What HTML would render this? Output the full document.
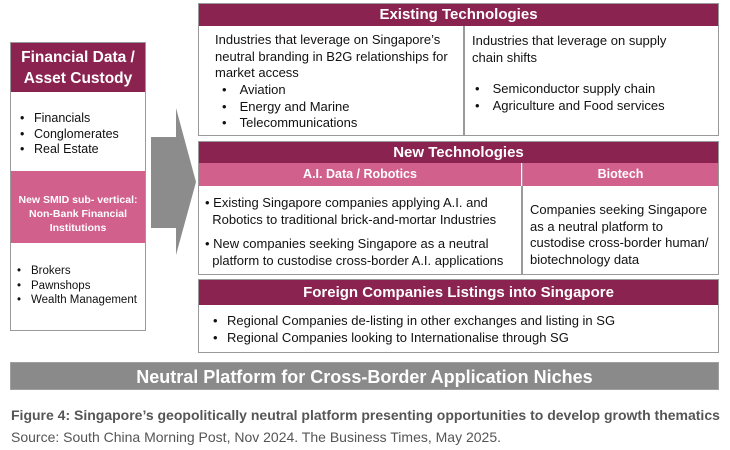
<!DOCTYPE html>
<html><head><meta charset="utf-8"><style>
body{margin:0;width:730px;height:450px;background:#fff;font-family:"Liberation Sans",sans-serif;position:relative;overflow:hidden;color:#111}
.a{position:absolute;box-sizing:border-box}
.bx{border:1.5px solid #9a9a9a;background:#fff}
.hd{background:#8a2350;color:#fff;font-weight:bold;text-align:center}
.pk{background:#d2608c;color:#fff;font-weight:bold;text-align:center}
.t{position:absolute;font-size:13px;line-height:16.5px}
ul{margin:0;padding:0;list-style:none}
li:before{content:"•";display:inline-block;width:14px}
</style></head><body>
<!-- left -->
<div class="a bx" style="left:10px;top:42px;width:136px;height:289px"></div>
<div class="a hd" style="left:11px;top:43px;width:134px;height:49px;font-size:15.5px;line-height:21px;padding-top:4px">Financial Data /<br>Asset Custody</div>
<div class="t" style="left:20px;top:111px;font-size:12.5px;line-height:15.5px"><ul><li>Financials</li><li>Conglomerates</li><li>Real Estate</li></ul></div>
<div class="a pk" style="left:11px;top:171px;width:134px;height:72px;font-size:10.5px;line-height:14px;padding-top:22px">New SMID sub- vertical:<br>Non-Bank Financial<br>Institutions</div>
<div class="t" style="left:17px;top:264px;font-size:11.5px;line-height:14.5px"><ul><li>Brokers</li><li>Pawnshops</li><li>Wealth Management</li></ul></div>
<!-- arrow -->
<svg class="a" style="left:148px;top:105px" width="52" height="155"><polygon points="3,32 28,32 28,3 48,77 28,150 28,123 3,123" fill="#8c8c8c"/></svg>
<!-- existing -->
<div class="a bx" style="left:198px;top:3px;width:521px;height:133px"></div>
<div class="a hd" style="left:199px;top:4px;width:519px;height:22px;font-size:15px;line-height:22px">Existing Technologies</div>
<div class="a" style="left:463px;top:26px;width:1.5px;height:109px;background:#9a9a9a"></div>
<div class="t" style="left:215px;top:32px">Industries that leverage on Singapore’s<br>neutral branding in B2G relationships for<br>market access</div>
<div class="t" style="left:222px;top:82px"><ul><li style="margin:0">&nbsp;Aviation</li><li>&nbsp;Energy and Marine</li><li>&nbsp;Telecommunications</li></ul></div>
<div class="t" style="left:472px;top:33px">Industries that leverage on supply<br>chain shifts</div>
<div class="t" style="left:475px;top:81px"><ul><li>&nbsp;Semiconductor supply chain</li><li>&nbsp;Agriculture and Food services</li></ul></div>
<!-- new -->
<div class="a bx" style="left:198px;top:141px;width:521px;height:134px"></div>
<div class="a hd" style="left:199px;top:142px;width:519px;height:21px;font-size:15px;line-height:21px">New Technologies</div>
<div class="a pk" style="left:199px;top:163px;width:322px;height:23px;font-size:12.5px;line-height:23px">A.I. Data / Robotics</div>
<div class="a pk" style="left:522px;top:163px;width:196px;height:23px;font-size:12.5px;line-height:23px;border-left:1.5px solid #c090a8">Biotech</div>
<div class="a" style="left:521px;top:186px;width:1.5px;height:88px;background:#9a9a9a"></div>
<div class="t" style="left:205px;top:195px">• Existing Singapore companies applying A.I. and<br>&nbsp;&nbsp;Robotics to traditional brick-and-mortar Industries</div>
<div class="t" style="left:205px;top:236px">• New companies seeking Singapore as a neutral<br>&nbsp;&nbsp;platform to custodise cross-border A.I. applications</div>
<div class="t" style="left:530px;top:202px">Companies seeking Singapore<br>as a neutral platform to<br>custodise cross-border human/<br>biotechnology data</div>
<!-- foreign -->
<div class="a bx" style="left:198px;top:279px;width:521px;height:74px"></div>
<div class="a hd" style="left:199px;top:280px;width:519px;height:25px;font-size:15px;line-height:25px">Foreign Companies Listings into Singapore</div>
<div class="t" style="left:213px;top:313px"><ul><li>Regional Companies de-listing in other exchanges and listing in SG</li><li>Regional Companies looking to Internationalise through SG</li></ul></div>
<!-- bar -->
<div class="a" style="left:10px;top:362px;width:709px;height:28px;background:#8a8a8a;color:#fff;font-weight:bold;font-size:18px;line-height:28px;text-align:center;border:1px solid #a0a0a0">Neutral Platform for Cross-Border Application Niches</div>
<div class="t" style="left:11px;top:407px;font-weight:bold;color:#555;font-size:14px">Figure 4: Singapore’s geopolitically neutral platform presenting opportunities to develop growth thematics</div>
<div class="t" style="left:11px;top:429px;color:#555;font-size:14px">Source: South China Morning Post, Nov 2024. The Business Times, May 2025.</div>
</body></html>
